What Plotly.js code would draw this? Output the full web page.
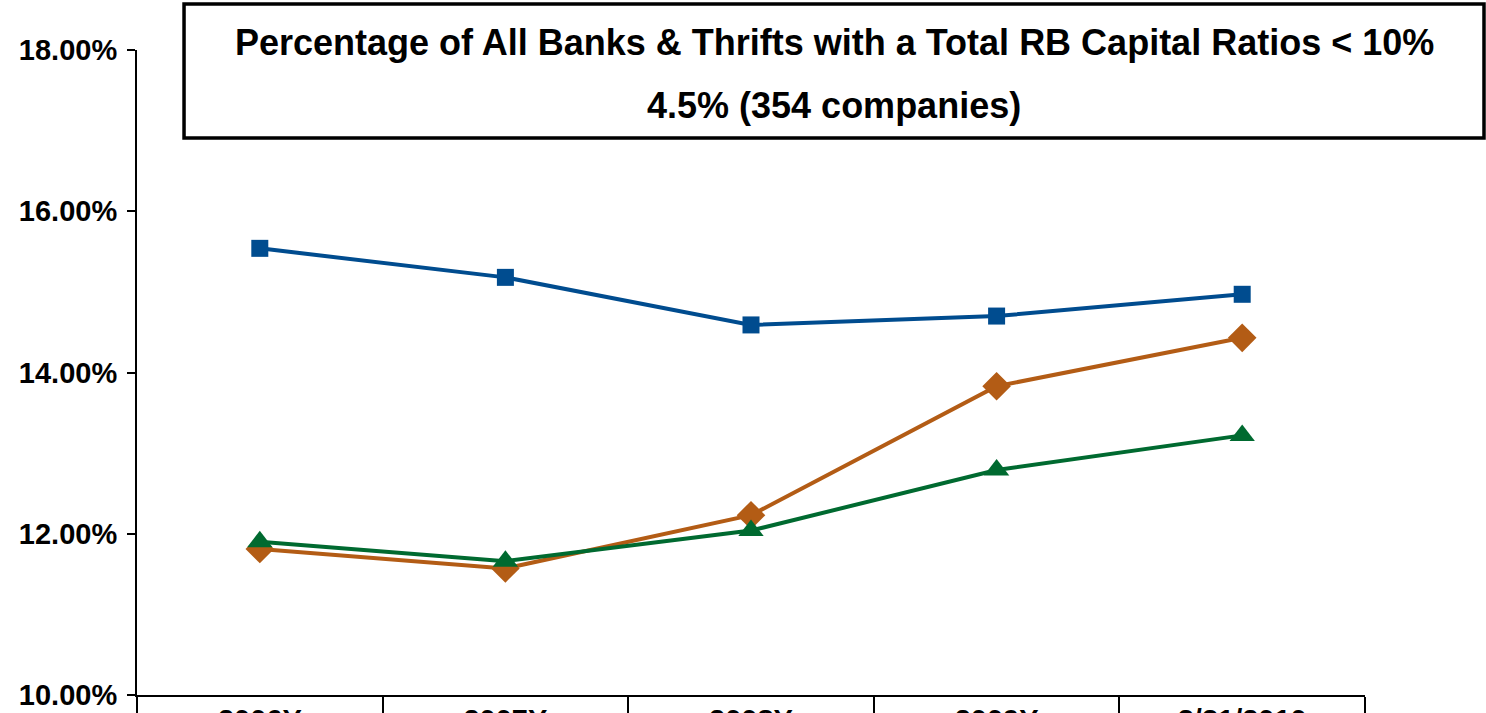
<!DOCTYPE html>
<html>
<head>
<meta charset="utf-8">
<script src="https://cdn.plot.ly/plotly-3.0.1.min.js"></script>
<style>html,body{margin:0;padding:0;background:#fff;}#chart{width:1486px;height:713px;}</style>
</head>
<body>
<div id="chart"></div>
<script>
const categories = ["2006Y", "2007Y", "2008Y", "2009Y", "3/31/2010"];
const seriesBlue = [15.54, 15.18, 14.59, 14.70, 14.97];
const seriesOrange = [11.81, 11.57, 12.23, 13.83, 14.43];
const seriesGreen = [11.90, 11.66, 12.04, 12.79, 13.22];
const titleLine1 = "Percentage of All Banks & Thrifts with a Total RB Capital Ratios < 10%";
const titleLine2 = "4.5% (354 companies)";

const FONT = "Liberation Sans, Arial, Helvetica, sans-serif";

const traces = [
  {x: categories, y: seriesBlue, type: "scatter", mode: "lines+markers", name: "Blue",
   line: {color: "#004C8F", width: 4},
   marker: {symbol: "square", size: 17, color: "#004C8F"}},
  {x: categories, y: seriesOrange, type: "scatter", mode: "lines+markers", name: "Orange",
   line: {color: "#B35C15", width: 4},
   marker: {symbol: "diamond", size: 22, color: "#B35C15"}},
  {x: categories, y: seriesGreen, type: "scatter", mode: "lines+markers", name: "Green",
   line: {color: "#006A30", width: 4},
   marker: {symbol: "triangle-up", size: 22, color: "#006A30"}}
];

const layout = {
  width: 1486, height: 713,
  margin: {l: 137, r: 121, t: 50, b: 18},
  paper_bgcolor: "#fff", plot_bgcolor: "#fff",
  showlegend: false,
  font: {family: FONT, color: "#000"},
  xaxis: {
    type: "category", range: [-0.5, 4.5],
    showgrid: false, zeroline: false,
    showline: true, linecolor: "#000", linewidth: 2,
    ticks: "outside", tickson: "boundaries", ticklen: 22, tickwidth: 2, tickcolor: "#000",
    ticklabelstandoff: -2,
    tickfont: {family: FONT, size: 29, weight: "bold", color: "#000"}
  },
  yaxis: {
    range: [10, 18], dtick: 2, tick0: 10,
    tickformat: ".2f", ticksuffix: "%",
    showgrid: false, zeroline: false,
    showline: true, linecolor: "#000", linewidth: 2,
    ticks: "outside", ticklen: 8, tickwidth: 2, tickcolor: "#000",
    ticklabelstandoff: 4,
    tickfont: {family: FONT, size: 29, weight: "bold", color: "#000"}
  },
  shapes: [
    {type: "rect", xref: "paper", yref: "paper", x0: 0.0383, x1: 1.0969, y0: 0.8636, y1: 1.0713,
     line: {color: "#000", width: 3.5}, fillcolor: "#fff", layer: "above"}
  ],
  annotations: [
    {xref: "paper", yref: "paper", x: 0.5676, y: 1.0124, xanchor: "center", yanchor: "middle",
     text: titleLine1, showarrow: false,
     font: {family: FONT, size: 36, weight: "bold", color: "#000"}},
    {xref: "paper", yref: "paper", x: 0.5676, y: 0.9147, xanchor: "center", yanchor: "middle",
     text: titleLine2, showarrow: false,
     font: {family: FONT, size: 36, weight: "bold", color: "#000"}}
  ]
};

Plotly.newPlot("chart", traces, layout, {displayModeBar: false, staticPlot: true});
</script>
</body>
</html>
